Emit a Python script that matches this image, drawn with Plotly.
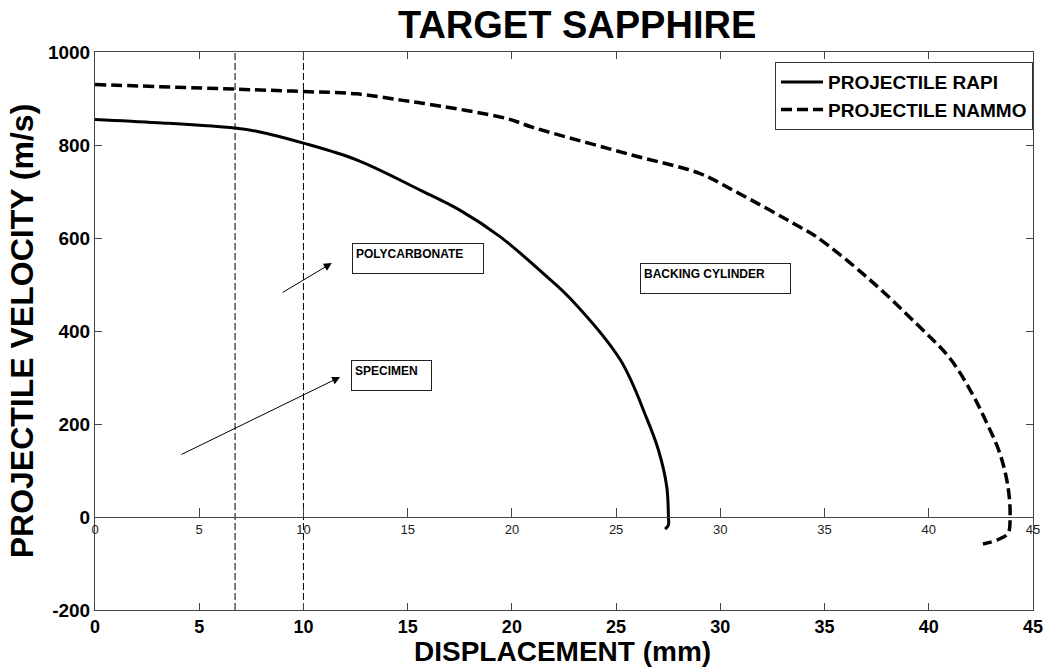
import plotly.graph_objects as go

# ---- data ----
rapi_disp = [0, 3.0, 6.8, 7.8, 10.0, 12.55, 15.6, 17.5, 19.43, 21.5, 22.8,
             25.2, 26.47, 27.03, 27.43, 27.51, 27.51, 27.35]
rapi_vel = [855, 848, 836, 829, 804, 768, 703, 660, 603, 524, 470,
            338, 212, 144, 65, 0, -17, -26]

nammo_disp = [0, 6.8, 10.0, 12.55, 14.6, 15.7, 19.75, 21.0, 25.8, 29.0, 30.6, 33.8,
              34.6, 37.0, 39.4, 41.0, 42.0, 42.7, 43.4, 43.8, 43.9, 43.8, 43.3, 42.6]
nammo_vel = [930, 920, 915, 910, 897, 890, 857, 838, 778, 739, 703, 624,
             603, 517, 416, 342, 272, 210, 138, 65, 0, -35, -49, -58]

boundary_x = [6.72, 10.0]
y_span = [-200, 1000]

x_ticks = [0, 5, 10, 15, 20, 25, 30, 35, 40, 45]
y_ticks = [-200, 0, 200, 400, 600, 800, 1000]
y_tick_text = ["-200", "0", "200", "400", "600", "800", "1000"]

labels = ["POLYCARBONATE", "SPECIMEN", "BACKING CYLINDER"]
label_x = [12.33, 12.27, 26.15]
label_y = [589, 338, 547]
label_w = [124, 73, 143]

arrow_head_x = [11.36, 11.76]
arrow_head_y = [546, 301]
arrow_tail_x = [8.93, 4.08]
arrow_tail_y = [481, 133]

FONT = "Liberation Sans, Arial, sans-serif"

fig = go.Figure()
fig.add_trace(go.Scatter(x=rapi_disp, y=rapi_vel, mode="lines", name="PROJECTILE RAPI",
                         line=dict(color="black", width=3, shape="spline", smoothing=1.0)))
fig.add_trace(go.Scatter(x=nammo_disp, y=nammo_vel, mode="lines", name="PROJECTILE NAMMO",
                         line=dict(color="black", width=3.5, dash="11px,5px",
                                   shape="spline", smoothing=1.0)))
for bx in boundary_x:
    fig.add_trace(go.Scatter(x=[bx, bx], y=y_span, mode="lines", showlegend=False,
                             xaxis="x2", yaxis="y",
                             line=dict(color="black", width=1, dash="7px,3px")))

annotations = []
for t, x, y, w in zip(labels, label_x, label_y, label_w):
    annotations.append(dict(x=x, y=y, xref="x", yref="y", text="<b>" + t + "</b>",
                            showarrow=False, xanchor="left", yanchor="top",
                            align="left", valign="top", width=w, height=23,
                            bordercolor="#222", borderwidth=1, borderpad=3,
                            bgcolor="white",
                            font=dict(family=FONT, size=12, color="black")))
for hx, hy, tx, ty in zip(arrow_head_x, arrow_head_y, arrow_tail_x, arrow_tail_y):
    annotations.append(dict(x=hx, y=hy, ax=tx, ay=ty, xref="x", yref="y",
                            axref="x", ayref="y", text="", showarrow=True,
                            arrowhead=2, arrowsize=1.6, arrowwidth=1, arrowcolor="black"))
# x-axis title placed close to the tick labels, as in the reference
annotations.append(dict(x=0.498, y=-0.0735, xref="paper", yref="paper",
                        text="<b>DISPLACEMENT (mm)</b>", showarrow=False,
                        xanchor="center", yanchor="middle",
                        font=dict(size=28, family=FONT, color="black")))

fig.update_layout(
    width=1050, height=670,
    margin=dict(l=95, r=17, t=52, b=60),
    paper_bgcolor="white", plot_bgcolor="white",
    font=dict(family=FONT, color="black"),
    title=dict(text="<b>TARGET SAPPHIRE</b>", x=0.514, xref="paper", xanchor="center",
               y=0.963, yanchor="middle", font=dict(size=38, family=FONT, color="black")),
    xaxis=dict(range=[0, 45], tickvals=x_ticks, ticks="inside", ticklen=7,
               showline=True, linecolor="#444", linewidth=1, mirror="ticks",
               showgrid=False, zeroline=False, automargin=False,
               tickfont=dict(size=18, family=FONT, color="black", weight="bold")),
    xaxis2=dict(range=[0, 45], tickvals=x_ticks, overlaying="x", anchor="free",
                position=1/6, side="bottom", ticks="inside", ticklen=9,
                showline=True, linecolor="#444", linewidth=1,
                showgrid=False, zeroline=False, automargin=False,
                tickfont=dict(size=13, family=FONT, color="#222")),
    yaxis=dict(range=[-200, 1000], tickvals=y_ticks, ticktext=y_tick_text,
               ticks="inside", ticklen=7,
               showline=True, linecolor="#444", linewidth=1, mirror="ticks",
               showgrid=False, zeroline=False, automargin=False,
               tickfont=dict(size=19, family=FONT, color="black", weight="bold"),
               title=dict(text="<b>PROJECTILE VELOCITY (m/s)</b>", standoff=4,
                          font=dict(size=32, family=FONT, color="black"))),
    legend=dict(x=1, xanchor="right", y=0.982, yanchor="top",
                bgcolor="white", bordercolor="#333", borderwidth=1,
                font=dict(size=19, family=FONT, color="black", weight="bold"),
                itemwidth=42, tracegroupgap=0),
    annotations=annotations,
)

fig.write_html("out.html")
